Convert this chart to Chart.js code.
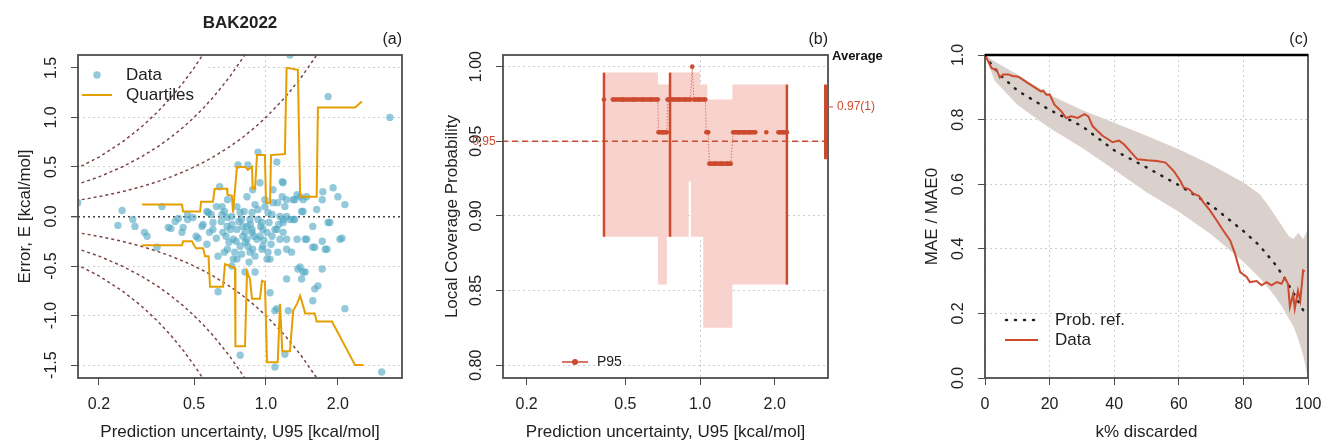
<!DOCTYPE html>
<html>
<head>
<meta charset="utf-8">
<title>BAK2022 calibration diagnostics</title>
<script src="https://cdn.jsdelivr.net/npm/chart.js@4.4.1/dist/chart.umd.min.js"></script>
<style>
  body { margin: 0; background: #fff; }
  #figure { position: relative; width: 1325px; height: 443px; }
  #figure canvas { position: absolute; top: 0; }
</style>
</head>
<body>
<div id="figure">
  <canvas id="errChart" width="420" height="443" style="left:0"></canvas>
  <canvas id="lcpChart" width="470" height="443" style="left:420px"></canvas>
  <canvas id="confChart" width="435" height="443" style="left:890px"></canvas>
</div>
<script>
// ---------- (a) error vs prediction uncertainty ----------
const uTicks = [0.2, 0.5, 1.0, 2.0];
const uTickLabels = ['0.2', '0.5', '1.0', '2.0'];
const errTicks = [-1.5, -1, -0.5, 0, 0.5, 1, 1.5];
const errTickLabels = ['-1.5', '-1.0', '-0.5', '0.0', '0.5', '1.0', '1.5'];

// [U95, E] pairs
const errPoints = [
  [0.163, 0.14], [0.24, -0.09], [0.25, 0.06], [0.277, -0.03], [0.283, -0.10], [0.31, -0.16],
  [0.318, -0.20], [0.35, -0.31], [0.367, 0.10], [0.39, -0.11], [0.40, -0.12], [0.417, -0.05],
  [0.43, -0.02], [0.445, -0.16], [0.45, -0.11], [0.47, 0.02], [0.47, -0.03], [0.495, -0.01],
  [0.51, -0.20], [0.52, -0.22], [0.54, -0.10], [0.545, -0.08], [0.566, 0.05], [0.566, -0.28],
  [0.573, 0.04], [0.59, 0.02], [0.60, -0.06], [0.60, -0.13], [0.62, 0.10], [0.63, -0.40],
  [0.63, -0.76], [0.64, 0.30], [0.655, 0.10], [0.655, 0.02], [0.66, -0.16], [0.67, 0.05],
  [0.67, -0.36], [0.687, -0.10], [0.69, -0.01], [0.69, 0.17], [0.69, -0.33], [0.70, -0.26],
  [0.71, -0.13], [0.72, 0.0], [0.73, -0.23], [0.73, -0.43], [0.74, -0.36], [0.756, -0.43],
  [0.756, -0.13], [0.756, 0.10], [0.764, 0.52], [0.78, 0.04], [0.78, -0.30], [0.78, -1.40],
  [0.79, -0.03], [0.80, -0.10], [0.80, -0.20], [0.81, 0.05], [0.817, -0.16], [0.817, -0.56],
  [0.833, 0.20], [0.833, -0.10], [0.833, -0.23], [0.84, 0.52], [0.84, -0.30], [0.857, -0.36],
  [0.857, -0.03], [0.874, 0.04], [0.874, -0.16], [0.874, -0.13], [0.88, 0.27], [0.88, -0.33],
  [0.90, -0.56], [0.90, -0.40], [0.90, 0.12], [0.917, -0.23], [0.926, 0.65], [0.926, -0.03],
  [0.926, 0.07], [0.944, 0.34], [0.944, -0.20], [0.962, -0.33], [0.962, -0.06], [0.97, -0.13],
  [0.97, -0.30], [0.99, 0.17], [0.99, 0.10], [1.01, -0.43], [1.01, -0.16], [1.02, 0.04],
  [1.02, -0.36], [1.04, -0.77], [1.04, -0.43], [1.06, -0.20], [1.06, 0.02], [1.07, 0.14],
  [1.07, 0.27], [1.09, -0.13], [1.09, -0.95], [1.09, -1.52], [1.11, 0.55], [1.11, -0.13],
  [1.11, -0.93], [1.12, -0.36], [1.12, 0.14], [1.145, 0.0], [1.145, -0.23], [1.17, 0.20],
  [1.17, 0.35], [1.18, 0.34], [1.18, -0.16], [1.18, -0.03], [1.18, -0.06], [1.20, 0.10],
  [1.20, -1.39], [1.22, -0.23], [1.22, -0.33], [1.22, 0.17], [1.22, 0.0], [1.22, -0.63],
  [1.24, -0.95], [1.26, -0.03], [1.26, 1.63], [1.28, -0.36], [1.30, 0.17], [1.30, -0.03],
  [1.32, -0.03], [1.32, 0.17], [1.35, -0.23], [1.35, 0.22], [1.36, -0.53], [1.39, 0.20],
  [1.39, -0.51], [1.41, -0.63], [1.41, 0.05], [1.43, 0.05], [1.43, 0.17], [1.43, -0.56],
  [1.46, -0.56], [1.46, -0.23], [1.48, -0.23], [1.48, 0.20], [1.57, -0.85], [1.57, -0.10],
  [1.57, -0.31], [1.60, -0.31], [1.60, -0.73], [1.63, 0.07], [1.65, -0.70], [1.72, -0.25],
  [1.72, 0.17], [1.72, -0.53], [1.73, 0.25], [1.77, -0.33], [1.80, -0.33], [1.82, -0.06],
  [1.82, 1.21], [1.85, -0.06], [1.91, 0.29], [2.0, 0.20], [2.04, -0.23], [2.08, -0.22],
  [2.14, 0.12], [2.14, -0.93], [3.05, -1.57], [3.30, 1.0],
  [0.58, -0.16], [0.62, -0.22], [0.65, -0.05], [0.68, -0.20], [0.72, -0.08], [0.75, -0.25],
  [0.77, -0.05], [0.79, -0.38], [0.82, -0.26], [0.86, -0.08], [0.89, -0.20], [0.95, -0.10],
  [0.98, -0.24], [1.03, -0.06], [1.05, -0.28], [1.13, -0.08], [0.72, -0.50], [0.85, -0.46]
];

// running quantile traces
const qHiU = [0.303, 0.445, 0.45, 0.53, 0.535, 0.60, 0.61, 0.687, 0.69, 0.72, 0.728, 0.756, 0.82, 0.84, 0.874,
              0.88, 0.90, 0.917, 0.99, 1.0, 1.04, 1.05, 1.20, 1.22, 1.36, 1.39, 1.63, 1.65, 2.36, 2.52];
const qHiE = [0.12, 0.12, 0.05, 0.05, 0.15, 0.15, 0.28, 0.28, 0.22, 0.21, 0.04, 0.50, 0.50, 0.47, 0.50,
              0.28, 0.28, 0.62, 0.62, 0.14, 0.14, 0.62, 0.63, 1.50, 1.48, 0.20, 0.20, 1.10, 1.10, 1.16];
const qLoU = [0.303, 0.445, 0.45, 0.49, 0.50, 0.51, 0.545, 0.556, 0.575, 0.583, 0.661, 0.674, 0.742, 0.745,
              0.817, 0.833, 0.857, 0.874, 0.944, 0.962, 0.99, 1.01, 1.12, 1.145, 1.17, 1.26, 1.30, 1.35,
              1.39, 1.43, 1.46, 1.60, 1.63, 1.89, 2.36, 2.55];
const qLoE = [-0.29, -0.29, -0.25, -0.25, -0.29, -0.32, -0.32, -0.40, -0.40, -0.71, -0.71, -0.48, -0.52, -1.31,
              -1.31, -0.56, -0.63, -0.83, -0.83, -0.65, -0.66, -1.47, -1.47, -0.88, -1.36, -1.36, -0.95, -0.88,
              -0.80, -0.90, -0.98, -0.98, -1.06, -1.06, -1.50, -1.50];

// E = +/- k*U guide curves, k = 1, 2, 3
const guideU  = [0.16, 0.2, 0.25, 0.3, 0.35, 0.4, 0.45, 0.5, 0.55, 0.6, 0.7, 0.8, 0.9, 1.0, 1.2, 1.4, 1.6, 1.8];
const guideP1 = [0.16, 0.2, 0.25, 0.3, 0.35, 0.4, 0.45, 0.5, 0.55, 0.6, 0.7, 0.8, 0.9, 1.0, 1.2, 1.4, 1.6, 1.8];
const guideP2 = [0.32, 0.4, 0.5, 0.6, 0.7, 0.8, 0.9, 1.0, 1.1, 1.2, 1.4, 1.6, 1.8, 2.0, 2.4, 2.8, 3.2, 3.6];
const guideP3 = [0.48, 0.6, 0.75, 0.9, 1.05, 1.2, 1.35, 1.5, 1.65, 1.8, 2.1, 2.4, 2.7, 3.0, 3.6, 4.2, 4.8, 5.4];
const guideM1 = [-0.16, -0.2, -0.25, -0.3, -0.35, -0.4, -0.45, -0.5, -0.55, -0.6, -0.7, -0.8, -0.9, -1.0, -1.2, -1.4, -1.6, -1.8];
const guideM2 = [-0.32, -0.4, -0.5, -0.6, -0.7, -0.8, -0.9, -1.0, -1.1, -1.2, -1.4, -1.6, -1.8, -2.0, -2.4, -2.8, -3.2, -3.6];
const guideM3 = [-0.48, -0.6, -0.75, -0.9, -1.05, -1.2, -1.35, -1.5, -1.65, -1.8, -2.1, -2.4, -2.7, -3.0, -3.6, -4.2, -4.8, -5.4];

// ---------- (b) local coverage probability ----------
const lcpTicks = [0.80, 0.85, 0.90, 0.95, 1.00];
const lcpTickLabels = ['0.80', '0.85', '0.90', '0.95', '1.00'];
const lcpX = [0.41, 0.43, 0.445, 0.49, 0.54, 0.59, 0.635, 0.676, 0.68, 0.71, 0.735, 0.74, 0.78, 0.82, 0.87,
              0.915, 0.93, 0.945, 0.99, 1.05, 1.06, 1.08, 1.09, 1.15, 1.22, 1.29, 1.33, 1.36, 1.43, 1.50,
              1.58, 1.67, 1.75, 1.85, 1.95, 2.07, 2.16, 2.24];
const lcpY = [0.978, null, 0.978, 0.978, 0.978, 0.978, 0.978, 0.978, 0.956, 0.956, 0.956, 0.978, 0.978, 0.978, 0.978,
              0.978, 1.0, 0.978, 0.978, 0.978, 0.956, 0.956, 0.935, 0.935, 0.935, 0.935, 0.935, 0.956, 0.956, 0.956,
              0.956, 0.956, null, 0.956, null, 0.956, 0.956, 0.956];
// upper and lower edges of the window confidence band
const bandHiX = [0.41, 0.677, 0.677, 0.757, 0.757, 1.00, 1.00, 1.07, 1.07, 1.35, 1.35, 2.24];
const bandHiY = [0.996, 0.996, 0.988, 0.988, 0.996, 0.996, 0.988, 0.988, 0.978, 0.978, 0.988, 0.988];
const bandLoX = [0.41, 0.677, 0.677, 0.735, 0.735, 0.90, 0.90, 0.92, 0.92, 1.03, 1.03, 1.35, 1.35, 2.24];
const bandLoY = [0.886, 0.886, 0.854, 0.854, 0.886, 0.886, 0.923, 0.923, 0.886, 0.886, 0.825, 0.825, 0.854, 0.854];
const ciX  = [0.41, 0.757, 2.24];
const ciLo = [0.886, 0.886, 0.854];
const ciHi = [0.996, 0.996, 0.988];
const targetCov = 0.95;
const avgCov = 0.973, avgLo = 0.938, avgHi = 0.988;
const avgLabel = '0.97(1)';

// ---------- (c) confidence curve ----------
const kTicks = [0, 20, 40, 60, 80, 100];
const maeTicks = [0, 0.2, 0.4, 0.6, 0.8, 1.0];
const maeTickLabels = ['0.0', '0.2', '0.4', '0.6', '0.8', '1.0'];
const bandK  = [0, 3, 10, 20, 30, 40, 50, 60, 70, 80, 85, 88, 90, 92, 94, 95.5, 97, 98.5, 100];
const bandUp = [1.0, 0.98, 0.94, 0.877, 0.83, 0.79, 0.75, 0.708, 0.66, 0.605, 0.57, 0.53, 0.50, 0.47, 0.44, 0.43, 0.45, 0.43, 0.46];
const bandDn = [1.0, 0.92, 0.846, 0.774, 0.713, 0.645, 0.575, 0.515, 0.445, 0.36, 0.31, 0.275, 0.25, 0.22, 0.185, 0.16, 0.12, 0.07, 0.0];
const refK = [0, 2, 5, 10, 20, 30, 40, 50, 60, 70, 80, 85, 90, 93, 96, 98.5];
const refV = [1.0, 0.97, 0.935, 0.89, 0.83, 0.78, 0.705, 0.652, 0.597, 0.535, 0.455, 0.41, 0.35, 0.305, 0.255, 0.21];
const dataK = [0, 1, 2, 3, 3.6, 4.6, 5.6, 7.2, 8.5, 10.3, 11.8, 13.3, 15.4, 17.4, 18, 19, 20, 21.5, 23.6, 25.1,
               26.7, 28.7, 30.8, 32, 33.3, 34.9, 36.4, 38, 39.5, 41.5, 43.1, 45.1, 47.2, 50.3, 53.3, 55.9, 58.5,
               60.5, 61.5, 63.1, 64.6, 66.2, 67.7, 69.7, 71.8, 73.8, 75.9, 77.4, 79, 81, 82, 84.1, 85.6, 87.2,
               88.7, 90.3, 91.8, 92.8, 93.8, 94.4, 95.4, 95.9, 96.9, 97.6, 98.5, 99];
const dataV = [1.0, 0.98, 0.96, 0.955, 0.954, 0.93, 0.94, 0.94, 0.935, 0.933, 0.923, 0.913, 0.90, 0.887, 0.89,
               0.877, 0.878, 0.846, 0.826, 0.805, 0.81, 0.805, 0.817, 0.81, 0.78, 0.764, 0.75, 0.74, 0.73, 0.735,
               0.723, 0.70, 0.677, 0.674, 0.672, 0.667, 0.64, 0.61, 0.59, 0.585, 0.57, 0.564, 0.543, 0.518,
               0.487, 0.456, 0.426, 0.385, 0.328, 0.313, 0.297, 0.30, 0.287, 0.297, 0.287, 0.297, 0.292, 0.31,
               0.292, 0.22, 0.26, 0.215, 0.27, 0.24, 0.333, 0.33];

// ---------- shared styling ----------
const FONT = '"Liberation Sans", Arial, Helvetica, sans-serif';
Chart.defaults.font.family = FONT;
Chart.defaults.font.size = 16;
Chart.defaults.color = '#222';

const FRAME = '#4d4d4d';
const GRID = '#cdcdcd';
const RED = '#cc4a2e';
const ORANGE = '#e69f00';
const CYAN = 'rgba(80,168,196,0.62)';
const GUIDE = '#7d4646';
const PINK = '#f8d2cd';
const GREY_BAND = '#dad0cc';

const pts = (xs, ys) => xs.map((x, i) => ({ x, y: ys[i] }));
const fixedTicks = values => scale => { scale.ticks = values.map(v => ({ value: v })); };
const boxSize = (size, horizontal) => scale => {
  if (horizontal) scale.height = size; else scale.width = size;
  scale.paddingLeft = scale.paddingRight = scale.paddingTop = scale.paddingBottom = 0;
};
const titleOpts = (text, pad) => ({ display: true, text, color: '#222', font: { size: 17 }, padding: pad });

function xLogAxis(min, max) {
  return {
    type: 'logarithmic', min, max,
    afterBuildTicks: fixedTicks(uTicks),
    afterFit: boxSize(65, true),
    ticks: { autoSkip: false, maxRotation: 0, padding: 10, color: '#222', callback: (v, i) => uTickLabels[i] },
    grid: { color: c => (c.tick && c.tick.value === 1 ? GRID : 'rgba(0,0,0,0)'), tickColor: FRAME, tickLength: 7 },
    border: { display: false, dash: [2, 3] },
    title: titleOpts('Prediction uncertainty, U95 [kcal/mol]', { top: 0, bottom: 0 })
  };
}

// frame, rotated y tick labels and panel tag
function decor(opts) {
  return {
    id: 'decor',
    beforeDatasetsDraw(chart) { if (opts.under) opts.under(chart); },
    afterDraw(chart) {
      const { ctx, chartArea: a } = chart;
      const yS = chart.scales.y;
      ctx.save();
      ctx.strokeStyle = FRAME;
      ctx.lineWidth = 1.8;
      ctx.strokeRect(a.left, a.top, a.right - a.left, a.bottom - a.top);
      ctx.fillStyle = '#222';
      ctx.font = '16px ' + FONT;
      ctx.textAlign = 'center';
      ctx.textBaseline = 'middle';
      opts.yTicks.forEach((v, i) => {
        ctx.save();
        ctx.translate(a.left - 26, yS.getPixelForValue(v));
        ctx.rotate(-Math.PI / 2);
        ctx.fillText(opts.yLabels[i], 0, 0);
        ctx.restore();
      });
      ctx.textAlign = 'right';
      ctx.fillText(opts.tag, a.right, 40);
      if (opts.over) opts.over(chart);
      ctx.restore();
    }
  };
}

const base = padRight => ({
  responsive: false,
  animation: false,
  events: [],
  layout: { padding: { top: 55, right: padRight, left: 0, bottom: 0 } },
  plugins: { legend: { display: false }, tooltip: { enabled: false } }
});

// ---------- panel (a) ----------
const guideSet = ys => ({
  data: pts(guideU, ys), showLine: true, borderColor: GUIDE, borderWidth: 1.5,
  borderDash: [3, 3], pointRadius: 0, order: 3
});

new Chart(document.getElementById('errChart'), {
  type: 'scatter',
  data: {
    datasets: [
      { label: 'Quartiles', data: pts(qHiU, qHiE), showLine: true, borderColor: ORANGE, borderWidth: 2, pointRadius: 0, order: 1 },
      { label: 'Quartiles', data: pts(qLoU, qLoE), showLine: true, borderColor: ORANGE, borderWidth: 2, pointRadius: 0, order: 1 },
      { label: 'Data', data: errPoints.map(p => ({ x: p[0], y: p[1] })), pointRadius: 3.7,
        backgroundColor: CYAN, borderWidth: 0, order: 2 },
      guideSet(guideP1), guideSet(guideP2), guideSet(guideP3),
      guideSet(guideM1), guideSet(guideM2), guideSet(guideM3)
    ]
  },
  options: {
    ...base(18),
    scales: {
      x: xLogAxis(0.1634, 3.71),
      y: {
        min: -1.63, max: 1.63,
        afterBuildTicks: fixedTicks(errTicks),
        afterFit: boxSize(78, false),
        ticks: { display: false },
        grid: {
          color: c => (c.tick && c.tick.value === 0 ? '#444' : GRID),
          lineWidth: c => (c.tick && c.tick.value === 0 ? 1.4 : 1),
          tickColor: FRAME, tickLength: 7
        },
        border: { display: false, dash: [2, 3] },
        title: titleOpts('Error, E [kcal/mol]', { top: 14.8, bottom: 0 })
      }
    }
  },
  plugins: [decor({
    yTicks: errTicks, yLabels: errTickLabels, tag: '(a)',
    under(chart) {
      const { ctx, chartArea: a } = chart;
      ctx.save();
      ctx.fillStyle = '#fff';
      ctx.fillRect(a.left + 1, a.top + 1, 126, 50);
      ctx.restore();
    },
    over(chart) {
      const { ctx, chartArea: a } = chart;
      ctx.font = 'bold 17px ' + FONT;
      ctx.textAlign = 'center';
      ctx.fillStyle = '#222';
      ctx.fillText('BAK2022', (a.left + a.right) / 2, 23);
      // legend
      ctx.fillStyle = CYAN;
      ctx.beginPath();
      ctx.arc(97, 75, 3.7, 0, Math.PI * 2);
      ctx.fill();
      ctx.strokeStyle = ORANGE;
      ctx.lineWidth = 2;
      ctx.beginPath();
      ctx.moveTo(82, 95);
      ctx.lineTo(112, 95);
      ctx.stroke();
      ctx.fillStyle = '#222';
      ctx.font = '17px ' + FONT;
      ctx.textAlign = 'left';
      ctx.fillText('Data', 126, 75);
      ctx.fillText('Quartiles', 126, 95);
    }
  })]
});

// ---------- panel (b) ----------
const flatRun = c => c.p0.parsed.y === c.p1.parsed.y;
const ciSets = ciX.map((x, i) => ({
  data: [{ x, y: ciLo[i] }, { x, y: ciHi[i] }], showLine: true,
  borderColor: RED, borderWidth: 2.5, pointRadius: 0, order: 2
}));

new Chart(document.getElementById('lcpChart'), {
  type: 'scatter',
  data: {
    datasets: [
      { label: 'P95', data: pts(lcpX, lcpY), showLine: true, spanGaps: false,
        borderColor: RED, borderWidth: 4.5, pointRadius: 2.3, pointBackgroundColor: RED, pointBorderWidth: 0,
        segment: {
          borderWidth: c => (flatRun(c) ? undefined : 1),
          borderDash: c => (flatRun(c) ? undefined : [1, 2])
        },
        order: 1 },
      ...ciSets,
      { data: [{ x: 0.1, y: targetCov }, { x: 5, y: targetCov }], showLine: true,
        borderColor: RED, borderWidth: 1.5, borderDash: [6, 4], pointRadius: 0, order: 3 },
      { data: pts(bandHiX, bandHiY), showLine: true, borderWidth: 0,
        borderColor: 'rgba(0,0,0,0)', pointRadius: 0, fill: false, order: 5 },
      { data: pts(bandLoX, bandLoY), showLine: true, borderWidth: 0,
        borderColor: 'rgba(0,0,0,0)', pointRadius: 0, fill: '-1', backgroundColor: PINK, order: 4 }
    ]
  },
  options: {
    ...base(62),
    scales: {
      x: xLogAxis(0.1606, 3.28),
      y: {
        min: 0.7914, max: 1.0078,
        afterBuildTicks: fixedTicks(lcpTicks),
        afterFit: boxSize(83, false),
        ticks: { display: false },
        grid: { color: GRID, tickColor: FRAME, tickLength: 7 },
        border: { display: false, dash: [2, 3] },
        title: titleOpts('Local Coverage Probability', { top: 22.3, bottom: 0 })
      }
    }
  },
  plugins: [decor({
    yTicks: lcpTicks, yLabels: lcpTickLabels, tag: '(b)',
    over(chart) {
      const { ctx, chartArea: a } = chart;
      const yS = chart.scales.y;
      // mean coverage with its interval, in the right margin
      const yHi = yS.getPixelForValue(avgHi), yLo = yS.getPixelForValue(avgLo), yAvg = yS.getPixelForValue(avgCov);
      ctx.fillStyle = RED;
      ctx.fillRect(a.right - 4, yHi, 3.5, yLo - yHi);
      ctx.strokeStyle = RED;
      ctx.lineWidth = 1;
      ctx.beginPath();
      ctx.moveTo(a.right, yAvg);
      ctx.lineTo(a.right + 5, yAvg);
      ctx.stroke();
      ctx.font = '12px ' + FONT;
      ctx.textAlign = 'left';
      ctx.fillText(avgLabel, a.right + 9, yAvg);
      ctx.textAlign = 'center';
      ctx.fillText('0.95', a.left - 19, yS.getPixelForValue(targetCov));
      ctx.fillStyle = '#111';
      ctx.font = 'bold 13px ' + FONT;
      ctx.textAlign = 'left';
      ctx.fillText('Average', a.right + 4, a.top + 1);
      // legend
      const ly = 362;
      ctx.strokeStyle = RED;
      ctx.lineWidth = 1.5;
      ctx.beginPath();
      ctx.moveTo(142, ly);
      ctx.lineTo(168, ly);
      ctx.stroke();
      ctx.fillStyle = RED;
      ctx.beginPath();
      ctx.arc(155, ly, 3, 0, Math.PI * 2);
      ctx.fill();
      ctx.fillStyle = '#222';
      ctx.font = '14px ' + FONT;
      ctx.fillText('P95', 177, ly);
    }
  })]
});

// ---------- panel (c) ----------
new Chart(document.getElementById('confChart'), {
  type: 'scatter',
  data: {
    datasets: [
      { label: 'Data', data: pts(dataK, dataV), showLine: true, borderColor: RED, borderWidth: 2,
        pointRadius: 0, order: 1 },
      { label: 'Prob. ref.', data: pts(refK, refV), showLine: true, borderColor: '#222', borderWidth: 2.5,
        borderDash: [1, 8], borderCapStyle: 'round', pointRadius: 0, order: 2 },
      { data: pts(bandK, bandUp), showLine: true, borderWidth: 0, borderColor: 'rgba(0,0,0,0)',
        pointRadius: 0, fill: false, order: 4 },
      { data: pts(bandK, bandDn), showLine: true, borderWidth: 0, borderColor: 'rgba(0,0,0,0)',
        pointRadius: 0, fill: '-1', backgroundColor: GREY_BAND, order: 3 }
    ]
  },
  options: {
    ...base(17),
    scales: {
      x: {
        type: 'linear', min: 0, max: 100,
        afterBuildTicks: fixedTicks(kTicks),
        afterFit: boxSize(65, true),
        ticks: { autoSkip: false, maxRotation: 0, padding: 10, color: '#222', callback: v => String(v) },
        grid: { color: GRID, tickColor: FRAME, tickLength: 7 },
        border: { display: false, dash: [2, 3] },
        title: titleOpts('k% discarded', { top: 0, bottom: 0 })
      },
      y: {
        min: 0, max: 1,
        afterBuildTicks: fixedTicks(maeTicks),
        afterFit: boxSize(95, false),
        ticks: { display: false },
        grid: { color: GRID, tickColor: FRAME, tickLength: 7 },
        border: { display: false, dash: [2, 3] },
        title: titleOpts('MAE / MAE0', { top: 31.8, bottom: 0 })
      }
    }
  },
  plugins: [decor({
    yTicks: maeTicks, yLabels: maeTickLabels, tag: '(c)',
    over(chart) {
      const { ctx, chartArea: a } = chart;
      ctx.strokeStyle = '#000';
      ctx.lineWidth = 2.5;
      ctx.beginPath();
      ctx.moveTo(a.left, a.top);
      ctx.lineTo(a.right, a.top);
      ctx.stroke();
      // legend
      ctx.strokeStyle = '#222';
      ctx.lineCap = 'round';
      ctx.setLineDash([1, 8]);
      ctx.beginPath();
      ctx.moveTo(116, 320);
      ctx.lineTo(147, 320);
      ctx.stroke();
      ctx.setLineDash([]);
      ctx.lineCap = 'butt';
      ctx.strokeStyle = RED;
      ctx.lineWidth = 2;
      ctx.beginPath();
      ctx.moveTo(115, 340);
      ctx.lineTo(148, 340);
      ctx.stroke();
      ctx.fillStyle = '#222';
      ctx.font = '17px ' + FONT;
      ctx.textAlign = 'left';
      ctx.fillText('Prob. ref.', 165, 320);
      ctx.fillText('Data', 165, 340);
    }
  })]
});
</script>
</body>
</html>
